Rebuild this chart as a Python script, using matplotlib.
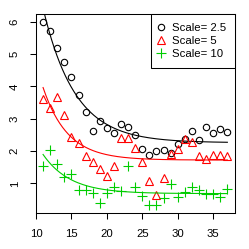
import numpy as np
import matplotlib
matplotlib.use("Agg")
import matplotlib.pyplot as plt

plt.rcParams.update({
    'font.family': ['Liberation Sans', 'DejaVu Sans'],
    'font.size': 8.2,
    'axes.linewidth': 0.75,
})

x = np.arange(11, 38)
scale_25 = [6.00, 5.71, 5.20, 4.75, 4.28, 3.74, 3.22, 2.63, 2.93, 2.70,
            2.57, 2.84, 2.74, 2.50, 2.07, 1.87, 2.00, 2.02, 1.95, 2.21,
            2.36, 2.63, 2.35, 2.74, 2.56, 2.67, 2.60]
scale_5 = [3.61, 3.34, 3.67, 3.11, 2.45, 2.24, 1.85, 1.66, 1.44, 1.23,
           1.54, 2.42, 2.41, 2.09, 1.67, 1.06, 0.65, 1.16, 1.90, 2.07,
           2.36, 2.29, 1.85, 1.74, 1.89, 1.89, 1.84]
scale_10 = [1.54, 2.04, 1.61, 1.20, 1.28, 0.81, 0.81, 0.70, 0.40, 0.71,
            0.90, 0.77, 1.55, 0.89, 0.61, 0.34, 0.34, 0.54, 0.97, 0.57,
            0.72, 0.90, 0.81, 0.66, 0.66, 0.58, 0.84]
labels = ['Scale= 2.5', 'Scale= 5', 'Scale= 10']
colors = ['black', '#FF0000', '#00CD00']


def fit_exp(xv, yv):
    # y = a + b*exp(-k*x): grid search on k, linear least squares for a, b
    best = None
    for k in np.linspace(0.01, 1.0, 991):
        A = np.column_stack([np.ones_like(xv, dtype=float), np.exp(-k * xv)])
        coef = np.linalg.lstsq(A, yv, rcond=None)[0]
        sse = np.sum((A @ coef - yv) ** 2)
        if best is None or sse < best[0]:
            best = (sse, k, coef)
    _, k, coef = best
    return lambda t: coef[0] + coef[1] * np.exp(-k * t)


fig = plt.figure(figsize=(2.49, 2.49), dpi=100)
ax = fig.add_axes([0.1434, 0.1458, 0.7992, 0.7968])

xs = np.linspace(11, 37, 200)
styles = [dict(marker='o', ms=4.6, mfc='none'),
          dict(marker='^', ms=5.2, mfc='none'),
          dict(marker='+', ms=6.5)]
for ys, lab, col, st in zip([scale_25, scale_5, scale_10], labels, colors, styles):
    ys = np.array(ys)
    ax.plot(x, ys, ls='none', color=col, mec=col, mew=0.8, label=lab, **st)
    f = fit_exp(x.astype(float), ys)
    ax.plot(xs, f(xs), color=col, lw=0.8)

ax.set_xlim(9.96, 38.04)
ax.set_ylim(0.095, 6.23)
ax.set_xticks([10, 15, 20, 25, 30, 35])
ax.set_yticks([1, 2, 3, 4, 5, 6])
ax.tick_params(length=4.5, width=0.75, pad=7)
for lbl in ax.get_yticklabels():
    lbl.set_rotation(90)
    lbl.set_va('center')

leg = ax.legend(loc='upper right', bbox_to_anchor=(1, 1), borderaxespad=0,
                fancybox=False, edgecolor='black', framealpha=1,
                handlelength=0.35, handletextpad=0.78, borderpad=0.74,
                labelspacing=0.28, fontsize=8.2)
leg.get_frame().set_linewidth(0.75)

fig.savefig('out.png', dpi=100)
